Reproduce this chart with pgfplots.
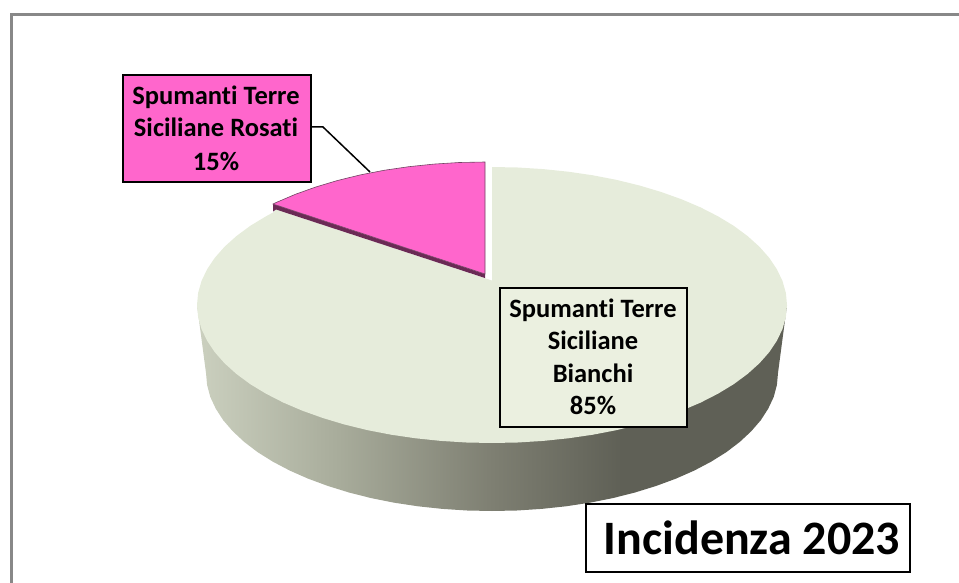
\documentclass[border=0pt]{standalone}
\usepackage{fontspec}
\setmainfont[RawFeature={-liga;-clig;-dlig}]{Carlito}
\usepackage{pgfplots}
\pgfplotsset{compat=1.18}
\definecolor{frameg}{HTML}{888888}
\definecolor{face}{HTML}{E6ECDB}
\definecolor{boxg}{HTML}{EBF0E0}
\definecolor{pinkc}{HTML}{FF66CC}
\definecolor{pinkd}{HTML}{6B2A55}
\definecolor{sa}{HTML}{CBD0BF}
\definecolor{sb}{HTML}{A8AC9B}
\definecolor{sc}{HTML}{7E7F72}
\definecolor{sd}{HTML}{5F6056}
\pgfdeclarehorizontalshading{sideshade}{100bp}{color(0bp)=(sa); color(25bp)=(sa); color(37bp)=(sb); color(50bp)=(sc); color(61bp)=(sd); color(100bp)=(sd)}
\newcommand{\lbl}[3]{\node[anchor=base,inner sep=0pt,font=\fontsize{#3}{#3}\selectfont\bfseries] at (axis cs:#1) {#2};}
\begin{document}
\begin{tikzpicture}
\useasboundingbox (0,0) rectangle (959pt,583pt);
\begin{axis}[
  scale only axis, width=959pt, height=583pt,
  xmin=0, xmax=959, ymin=0, ymax=583, y dir=reverse,
  axis lines=none, clip=true, no markers]
% frame
\addplot[frameg, line width=3pt, forget plot] coordinates {(11,583) (11,15) (959,15)};
% side of the pie
\addplot[shading=sideshade, draw=none, forget plot] coordinates {
(197,305) (206,373) (207.1,385) (210.3,397) (215.8,408.7) (223.2,420.2) (232.8,431.3) (244.3,442) (257.7,452.2) (272.9,461.7) (289.8,470.6) (308.2,478.7) (328,486) (349,492.5) (371.1,498.1) (394.2,502.7) (418,506.3) (442.4,508.9) (467.1,510.5) (492,511) (516.9,510.5) (541.6,508.9) (566,506.3) (589.8,502.7) (612.9,498.1) (635,492.5) (656,486) (675.8,478.7) (694.2,470.6) (711.1,461.7) (726.3,452.2) (739.7,442) (751.2,431.3) (760.8,420.2) (768.2,408.7) (773.7,397) (776.9,385) (778,373) (787,305)} -- cycle;
% Bianchi 85
\addplot[fill=face, draw=none, forget plot] coordinates {
(492,167) (517.7,167.5) (543.2,169.1) (568.3,171.7) (592.9,175.3) (616.7,179.9) (639.5,185.5) (661.2,192) (681.6,199.3) (700.6,207.4) (718,216.3) (733.7,225.8) (747.5,236) (759.4,246.7) (769.2,257.8) (776.9,269.3) (782.5,281) (785.9,293) (787,305) (785.9,317) (782.5,329) (776.9,340.7) (769.2,352.2) (759.4,363.3) (747.5,374) (733.7,384.2) (718,393.7) (700.6,402.6) (681.6,410.7) (661.2,418) (639.5,424.5) (616.7,430.1) (592.9,434.7) (568.3,438.3) (543.2,440.9) (517.7,442.5) (492,443) (466.3,442.5) (440.8,440.9) (415.7,438.3) (391.1,434.7) (367.3,430.1) (344.5,424.5) (322.8,418) (302.4,410.7) (283.4,402.6) (266,393.7) (250.3,384.2) (236.5,374) (224.6,363.3) (214.8,352.2) (207.1,340.7) (201.5,329) (198.1,317) (197,305) (198.1,293) (201.5,281) (207.1,269.3) (214.8,257.8) (224.6,246.7) (236.5,236) (250.3,225.8) (266,216.3) (273,212.5) (276,209.5) (492,280.5)} -- cycle;
% Rosati 15: side and top
\addplot[fill=pinkd, draw=none, forget plot] coordinates {(273,204) (485,274) (485,278) (276,209.5) (273,211.5)} -- cycle;
\addplot[fill=pinkc, draw=pinkd!70!gray, line width=0.6pt, forget plot] coordinates {
(485,274) (485,162) (459.3,162.5) (433.8,164.1) (408.7,166.7) (384.1,170.3) (360.3,174.9) (337.5,180.5) (315.8,187) (295.4,194.3) (276.4,202.4) (273,204)} -- cycle;
% leader
\addplot[black, line width=1.5pt, forget plot] coordinates {(311,127) (323,127) (370,172)};
% labels
\draw[line width=2.2pt, fill=pinkc] (axis cs:123,75) rectangle (axis cs:311,182);
\lbl{216,105}{Spumanti Terre}{26.5}
\lbl{216,137}{Siciliane Rosati}{26.5}
\lbl{216,171}{15\%}{26.5}
\draw[line width=2.2pt, fill=boxg] (axis cs:500,288) rectangle (axis cs:687,427);
\lbl{593,317}{Spumanti Terre}{26.5}
\lbl{593,349}{Siciliane}{26.5}
\lbl{593,382}{Bianchi}{26.5}
\lbl{593,414}{85\%}{26.5}
\draw[line width=2.2pt, fill=white] (axis cs:586,504) rectangle (axis cs:910,572);
\lbl{752,554}{Incidenza 2023}{48}
\end{axis}
\end{tikzpicture}
\end{document}
